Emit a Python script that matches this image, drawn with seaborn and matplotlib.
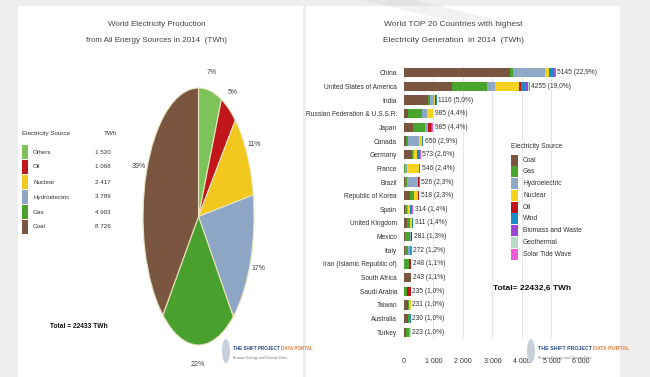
import matplotlib
matplotlib.use("Agg")
import matplotlib.pyplot as plt
from matplotlib.patches import Rectangle, Ellipse, Polygon
from matplotlib.ticker import FuncFormatter
import pandas as pd
import seaborn as sns

# ---- left: world production by source (TWh) ----
pie_sources = ["Others", "Oil", "Nuclear", "Hydroelectric", "Gas", "Coal"]
pie_twh = [1520, 1068, 2417, 3789, 4903, 8726]
pie_colors = ["#7cc35a", "#c0161c", "#f2c81e", "#8ea6c6", "#4aa02c", "#7a5640"]
pie_total_label = "Total = 22433 TWh"

# ---- right: top 20 countries, stacked by source (TWh) ----
countries = ["China", "United States of America", "India", "Russian Federation & U.S.S.R.",
             "Japan", "Canada", "Germany", "France", "Brazil", "Republic of Korea", "Spain",
             "United Kingdom", "Mexico", "Italy", "Iran (Islamic Republic of)", "South Africa",
             "Saudi Arabia", "Taiwan", "Australia", "Turkey"]
totals = [5145, 4255, 1116, 985, 985, 650, 573, 546, 526, 518, 314, 311, 281, 272, 248,
          243, 235, 231, 230, 223]
shares = ["22,9%", "19,0%", "5,0%", "4,4%", "4,4%", "2,9%", "2,6%", "2,4%", "2,3%", "2,3%",
          "1,4%", "1,4%", "1,3%", "1,2%", "1,1%", "1,1%", "1,0%", "1,0%", "1,0%", "1,0%"]
coal = [3600, 1640, 822, 150, 303, 60, 260, 10, 20, 210, 45, 100, 34, 45, 0, 225, 0, 120, 145, 65]
gas = [107, 1160, 55, 470, 420, 60, 60, 15, 80, 115, 50, 100, 161, 94, 165, 0, 100, 60, 52, 105]
hydro = [1065, 280, 135, 175, 85, 380, 25, 68, 359, 8, 42, 8, 39, 60, 15, 1, 0, 4, 18, 40]
nuclear = [133, 830, 36, 180, 0, 108, 90, 415, 15, 156, 57, 64, 10, 0, 4, 14, 0, 40, 0, 0]
oil = [10, 40, 20, 10, 110, 8, 5, 5, 30, 20, 15, 2, 25, 15, 64, 0, 135, 4, 4, 2]
wind = [156, 184, 37, 0, 5, 23, 57, 17, 12, 1, 52, 32, 6, 15, 0, 1, 0, 2, 10, 8]
biomass = [44, 70, 5, 0, 35, 10, 50, 8, 10, 5, 5, 5, 0, 18, 0, 0, 0, 1, 0, 0]
geothermal = [0, 19, 0, 0, 3, 0, 0, 0, 0, 0, 0, 0, 6, 6, 0, 0, 0, 0, 0, 3]
solar = [30, 32, 6, 0, 24, 1, 26, 8, 0, 3, 48, 0, 0, 19, 0, 2, 0, 0, 1, 0]
bar_sources = ["Coal", "Gas", "Hydroelectric", "Nuclear", "Oil", "Wind",
               "Biomass and Waste", "Geothermal", "Solar Tide Wave"]
bar_colors = ["#7a5640", "#4aa52c", "#8ea8c8", "#f5d21e", "#c0141c", "#1a8cc4",
              "#9b46d6", "#b6dcc6", "#ee5ad6"]
bar_total_label = "Total= 22432,6 TWh"

W, H = 650, 377


def fx(px):
    return px / W


def fy(py):
    return 1 - py / H


def fbox(left, top, right, bottom):
    return [fx(left), fy(bottom), (right - left) / W, (bottom - top) / H]


sns.set_theme(style="white")
plt.rcParams["font.family"] = ["Liberation Sans", "DejaVu Sans"]

fig = plt.figure(figsize=(6.5, 3.77), dpi=100, facecolor="#eeeeee")
# white panels
fig.add_artist(Rectangle((fx(18), 0), fx(303) - fx(18), fy(6), transform=fig.transFigure,
                         facecolor="white", edgecolor="none", zorder=0))
fig.add_artist(Rectangle((fx(306), 0), fx(620) - fx(306), fy(6), transform=fig.transFigure,
                         facecolor="white", edgecolor="none", zorder=0))
# faint watermark stroke at the top
fig.add_artist(Polygon([(fx(362), fy(0)), (fx(415), fy(0)), (fx(506), fy(22)), (fx(455), fy(22))],
                       closed=True, transform=fig.transFigure, facecolor="#9a9a9a",
                       alpha=0.12, edgecolor="none", zorder=5))

txt = "#333333"
ttl = "#444444"

# ---------------- pie ----------------
fig.text(fx(157), fy(24), "World Electricity Production", ha="center", va="center",
         fontsize=5.8, color=ttl)
fig.text(fx(157), fy(41), "from All Energy Sources in 2014  (TWh)", ha="center", va="center",
         fontsize=5.8, color=ttl)

ax_pie = fig.add_axes(fbox(143, 88, 254, 345))
wedges, _, autotexts = ax_pie.pie(pie_twh, colors=pie_colors, startangle=90, counterclock=False,
                                  autopct="%.0f%%", pctdistance=1.15,
                                  wedgeprops=dict(edgecolor="#e9e4c0", linewidth=0.8))
for t in autotexts:
    t.set_fontsize(5)
    t.set_color(ttl)
ax_pie.set_aspect("auto")
ax_pie.set_xlim(-1, 1)
ax_pie.set_ylim(-1, 1)
ax_pie.axis("off")

# pie legend (name + TWh columns)
fig.text(fx(22), fy(133), "Electricity Source", ha="left", va="center", fontsize=4.5, color=txt)
fig.text(fx(104), fy(133), "TWh", ha="left", va="center", fontsize=4.5, color=txt)
for i, (name, val, col) in enumerate(zip(pie_sources, pie_twh, pie_colors)):
    yc = 152 + 15 * i
    fig.add_artist(Rectangle((fx(22), fy(yc + 7)), fx(28) - fx(22), 14 / H,
                             transform=fig.transFigure, facecolor=col, edgecolor="none"))
    fig.text(fx(33), fy(yc), name, ha="left", va="center", fontsize=4.5, color=txt)
    fig.text(fx(111), fy(yc), f"{val:,}".replace(",", " "), ha="right", va="center",
             fontsize=4.5, color=txt)

fig.text(fx(50), fy(327), pie_total_label, ha="left", va="center", fontsize=4.8,
         fontweight="bold", color="#111111")

# ---------------- stacked bars ----------------
fig.text(fx(453), fy(24), "World TOP 20 Countries with highest", ha="center", va="center",
         fontsize=6, color=ttl)
fig.text(fx(453), fy(41), "Electricity Generation  in 2014  (TWh)", ha="center", va="center",
         fontsize=6, color=ttl)

df = pd.DataFrame({"Country": countries, "Coal": coal, "Gas": gas, "Hydroelectric": hydro,
                   "Nuclear": nuclear, "Oil": oil, "Wind": wind, "Biomass and Waste": biomass,
                   "Geothermal": geothermal, "Solar Tide Wave": solar})
cum = df[bar_sources].cumsum(axis=1)
cum["Country"] = countries

ax = fig.add_axes(fbox(404, 66, 581, 339))
for src, col in reversed(list(zip(bar_sources, bar_colors))):
    sns.barplot(data=cum, x=src, y="Country", order=countries, color=col, orient="h",
                width=0.68, saturation=1, edgecolor="none", linewidth=0, ax=ax)

for i, (tot, sh) in enumerate(zip(totals, shares)):
    ax.text(tot + 50, i, f"{tot} ({sh})", ha="left", va="center", fontsize=4.8, color=txt,
            clip_on=False)

ax.set_xlim(0, 6000)
ax.set_ylim(len(countries) - 0.5, -0.5)
ax.set_xlabel("")
ax.set_ylabel("")
ax.set_xticks(range(0, 7000, 1000))
ax.xaxis.set_major_formatter(FuncFormatter(lambda v, p: f"{int(v):,}".replace(",", " ")))
ax.tick_params(axis="x", length=0, pad=14, labelsize=5, labelcolor=txt)
ax.tick_params(axis="y", length=0, pad=5, labelsize=4.8, labelcolor=txt)
ax.xaxis.grid(True, color="#e2e2e2", linewidth=0.6)
ax.set_axisbelow(True)
ax.set_facecolor("none")
for s in ax.spines.values():
    s.set_visible(False)

# bar legend
fig.text(fx(511), fy(146), "Electricity Source", ha="left", va="center", fontsize=4.8, color=txt)
for i, (name, col) in enumerate(zip(bar_sources, bar_colors)):
    yc = 160 + 11.75 * i
    fig.add_artist(Rectangle((fx(511), fy(yc + 5.5)), fx(518) - fx(511), 11 / H,
                             transform=fig.transFigure, facecolor=col, edgecolor="none"))
    fig.text(fx(523), fy(yc), name, ha="left", va="center", fontsize=4.8, color=txt)

fig.text(fx(493), fy(288), bar_total_label, ha="left", va="center", fontsize=6,
         fontweight="bold", color="#111111")

# data portal logos
for lx, ly, scale in [(226, 351, 1.0), (531, 351, 1.15)]:
    fig.add_artist(Ellipse((fx(lx), fy(ly)), 8 / W, 24 / H, transform=fig.transFigure,
                           facecolor="#c8d0dc", edgecolor="none", zorder=3))
    fig.text(fx(lx + 7), fy(ly - 2), "THE SHIFT PROJECT", ha="left", va="center",
             fontsize=3.3 * scale, fontweight="bold", color="#2b4c8c", zorder=4)
    fig.text(fx(lx + 7 + 48 * scale), fy(ly - 2), "DATA PORTAL", ha="left", va="center",
             fontsize=3.3 * scale, fontweight="bold", color="#e07a3a", zorder=4)
    fig.text(fx(lx + 7), fy(ly + 7), "Browse Energy and Climate Data", ha="left", va="center",
             fontsize=2.6, color="#777777", zorder=4)

fig.savefig("out.png", dpi=100, facecolor=fig.get_facecolor())
